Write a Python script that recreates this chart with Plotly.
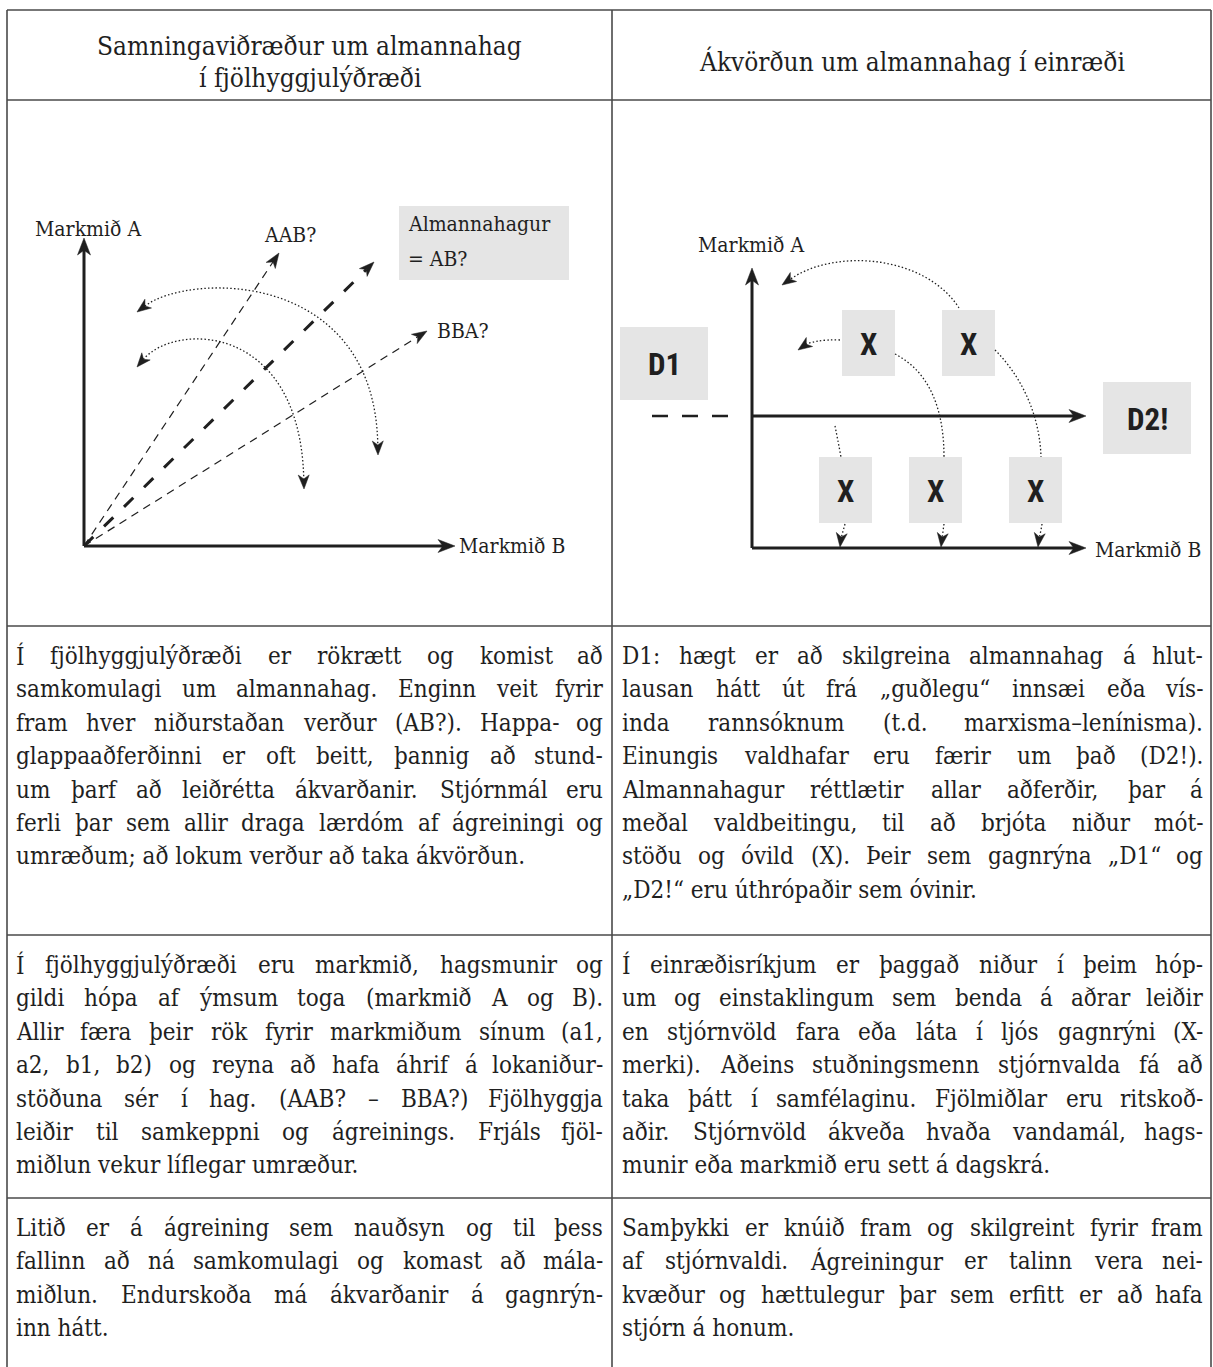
import glob
import math
import struct
import plotly.graph_objects as go

W, H = 1213, 1367

# ------------------------------------------------------------------ data
table_cols = [7, 612, 1211]
table_rows = [10, 100, 626, 935, 1198, 1367]

header_left = ["Samningaviðræður um almannahag", "í fjölhyggjulýðræði"]
header_right = ["Ákvörðun um almannahag í einræði"]

body_left = [
    ["Í fjölhyggjulýðræði er rökrætt og komist að",
     "samkomulagi um almannahag. Enginn veit fyrir",
     "fram hver niðurstaðan verður (AB?). Happa- og",
     "glappaaðferðinni er oft beitt, þannig að stund-",
     "um þarf að leiðrétta ákvarðanir. Stjórnmál eru",
     "ferli þar sem allir draga lærdóm af ágreiningi og",
     "umræðum; að lokum verður að taka ákvörðun."],
    ["Í fjölhyggjulýðræði eru markmið, hagsmunir og",
     "gildi hópa af ýmsum toga (markmið A og B).",
     "Allir færa þeir rök fyrir markmiðum sínum (a1,",
     "a2, b1, b2) og reyna að hafa áhrif á lokaniður-",
     "stöðuna sér í hag. (AAB? – BBA?) Fjölhyggja",
     "leiðir til samkeppni og ágreinings. Frjáls fjöl-",
     "miðlun vekur líflegar umræður."],
    ["Litið er á ágreining sem nauðsyn og til þess",
     "fallinn að ná samkomulagi og komast að mála-",
     "miðlun. Endurskoða má ákvarðanir á gagnrýn-",
     "inn hátt."],
]
body_right = [
    ["D1: hægt er að skilgreina almannahag á hlut-",
     "lausan hátt út frá „guðlegu“ innsæi eða vís-",
     "inda rannsóknum (t.d. marxisma–lenínisma).",
     "Einungis valdhafar eru færir um það (D2!).",
     "Almannahagur réttlætir allar aðferðir, þar á",
     "meðal valdbeitingu, til að brjóta niður mót-",
     "stöðu og óvild (X). Þeir sem gagnrýna „D1“ og",
     "„D2!“ eru úthrópaðir sem óvinir."],
    ["Í einræðisríkjum er þaggað niður í þeim hóp-",
     "um og einstaklingum sem benda á aðrar leiðir",
     "en stjórnvöld fara eða láta í ljós gagnrýni (X-",
     "merki). Aðeins stuðningsmenn stjórnvalda fá að",
     "taka þátt í samfélaginu. Fjölmiðlar eru ritskoð-",
     "aðir. Stjórnvöld ákveða hvaða vandamál, hags-",
     "munir eða markmið eru sett á dagskrá."],
    ["Samþykki er knúið fram og skilgreint fyrir fram",
     "af stjórnvaldi. Ágreiningur er talinn vera nei-",
     "kvæður og hættulegur þar sem erfitt er að hafa",
     "stjórn á honum."],
]

# left diagram (pluralist negotiation)
L_origin = (84, 546)
L_axis_tips = [(84, 238), (455, 546)]
L_axis_labels = [("Markmið A", 88, 229, "center"), ("Markmið B", 458, 546, "left")]
L_ray_names = ["AAB?", "AB?", "BBA?"]
L_ray_tips = [(279, 253), (374, 262), (427, 331)]
L_ray_bold = [False, True, False]
L_ray_labels = [("AAB?", 290, 235, "center"), ("BBA?", 436, 331, "left")]
L_box = (399, 206, 569, 280)
L_box_text = [("Almannahagur", 407, 224), ("= AB?", 407, 259)]
L_arcs = [
    [(137, 312), (190, 272), (375, 270), (378, 455)],
    [(137, 367), (175, 322), (300, 322), (304, 489)],
]

# right diagram (autocratic decision)
R_vaxis = (752, 548, 268)
R_haxes = [(416, 752, 1086), (548, 752, 1086)]
R_dash = (652, 730, 416)
R_axis_labels = [("Markmið A", 751, 245, "center"), ("Markmið B", 1094, 550, "left")]
R_D_boxes = [("D1", 620, 327, 708, 400), ("D2!", 1103, 382, 1191, 454)]
R_X_boxes = [(842, 310, 895, 376), (942, 310, 995, 376),
             (819, 457, 872, 523), (909, 457, 962, 523), (1009, 457, 1062, 523)]
R_arcs = [  # control points, arrowhead at end?
    ([(959, 308), (925, 255), (835, 248), (782, 285)], True),
    ([(840, 340), (822, 339), (808, 343), (798, 350)], True),
    ([(895, 354), (930, 372), (944, 410), (944, 457)], False),
    ([(995, 350), (1025, 380), (1040, 420), (1041, 457)], False),
    ([(835, 426), (837, 436), (839, 446), (841, 457)], False),
    ([(845, 524), (843, 531), (841, 539), (840, 547)], True),
    ([(944, 524), (943, 531), (942, 539), (941, 547)], True),
    ([(1042, 524), (1041, 531), (1039, 539), (1038, 547)], True),
]

# ------------------------------------------------------------------ style
INK = "#1f1f1f"
GRID = "#4a4a4a"
BOX = "#e5e5e5"
COND = "Liberation Sans Narrow, Roboto Condensed, Roboto, sans-serif"

first_line_offset = 30
line_step = 33.4
col_pad_left = [15, 621]
col_pad_right = [604, 1204]


# ------------------------------------------------------------------ font metrics (for justified text)
def _parse_ttf(path):
    data = open(path, "rb").read()
    num = struct.unpack(">H", data[4:6])[0]
    tables = {}
    for i in range(num):
        tag, _cs, off, ln = struct.unpack(">4sIII", data[12 + 16 * i:28 + 16 * i])
        tables[tag.decode("latin1")] = off
    head = tables["head"]
    upem = struct.unpack(">H", data[head + 18:head + 20])[0]
    hhea = tables["hhea"]
    nhm = struct.unpack(">H", data[hhea + 34:hhea + 36])[0]
    hm = tables["hmtx"]
    adv = [struct.unpack(">H", data[hm + 4 * i:hm + 4 * i + 2])[0] for i in range(nhm)]
    cm = tables["cmap"]
    nsub = struct.unpack(">H", data[cm + 2:cm + 4])[0]
    for i in range(nsub):
        pid, eid, off = struct.unpack(">HHI", data[cm + 4 + 8 * i:cm + 12 + 8 * i])
        st = cm + off
        fmt = struct.unpack(">H", data[st:st + 2])[0]
        if fmt != 4:
            continue
        segx2 = struct.unpack(">H", data[st + 6:st + 8])[0]
        seg = segx2 // 2
        ends = struct.unpack(">%dH" % seg, data[st + 14:st + 14 + segx2])
        starts = struct.unpack(">%dH" % seg, data[st + 16 + segx2:st + 16 + 2 * segx2])
        deltas = struct.unpack(">%dh" % seg, data[st + 16 + 2 * segx2:st + 16 + 3 * segx2])
        rpos = st + 16 + 3 * segx2
        roffs = struct.unpack(">%dH" % seg, data[rpos:rpos + segx2])

        def glyph(c, ends=ends, starts=starts, deltas=deltas, roffs=roffs, rpos=rpos):
            for k in range(seg):
                if ends[k] >= c:
                    if starts[k] > c:
                        return 0
                    if roffs[k] == 0:
                        return (c + deltas[k]) & 0xFFFF
                    a = rpos + 2 * k + roffs[k] + 2 * (c - starts[k])
                    g = struct.unpack(">H", data[a:a + 2])[0]
                    return (g + deltas[k]) & 0xFFFF if g else 0
            return 0
        return glyph, adv, upem
    raise ValueError("no cmap")


METRICS = None
SERIF = "DejaVu Serif"
for fname, fam in [("DejaVuSerifCondensed.ttf", "DejaVu Serif Condensed"),
                   ("DejaVuSerif.ttf", "DejaVu Serif")]:
    for p in glob.glob("/usr/share/fonts/**/" + fname, recursive=True):
        try:
            METRICS = _parse_ttf(p)
            SERIF = fam
            break
        except Exception:
            pass
    if METRICS is not None:
        break


def text_width(s, size):
    if METRICS is None:
        return len(s) * 0.56 * size
    glyph, adv, upem = METRICS
    tot = 0
    for ch in s:
        g = glyph(ord(ch))
        tot += adv[g] if g < len(adv) else adv[-1]
    return tot * size / upem


# choose body size so every justified line fits with reasonable word gaps
def fit_size():
    best = 24.0
    for col, rows in enumerate([body_left, body_right]):
        cw = col_pad_right[col] - col_pad_left[col]
        for lines in rows:
            for ln in lines[:-1]:
                words = ln.split(" ")
                w1 = sum(text_width(w, 1) for w in words)
                sp = text_width(" ", 1) * 0.35 * (len(words) - 1)
                best = min(best, cw / (w1 + sp))
    return best


BODY = fit_size()

# ------------------------------------------------------------------ figure
shapes = []
ann = []


def line(x0, y0, x1, y1, color=INK, width=3, dash=None):
    d = dict(type="line", xref="x", yref="y", x0=x0, y0=y0, x1=x1, y1=y1,
             line=dict(color=color, width=width))
    if dash:
        d["line"]["dash"] = dash
    shapes.append(d)


def rect(x0, y0, x1, y1, fill=BOX):
    shapes.append(dict(type="rect", xref="x", yref="y", x0=x0, y0=y0, x1=x1, y1=y1,
                       fillcolor=fill, line=dict(width=0), layer="below"))


def head(tip, direction, length=15, half=6):
    dx, dy = direction
    n = math.hypot(dx, dy)
    ux, uy = dx / n, dy / n
    bx, by = tip[0] - ux * length, tip[1] - uy * length
    nx, ny = tip[0] - ux * length * 0.72, tip[1] - uy * length * 0.72
    px, py = -uy, ux
    path = (f"M {tip[0]:.1f},{tip[1]:.1f} L {bx + px * half:.1f},{by + py * half:.1f} "
            f"L {nx:.1f},{ny:.1f} L {bx - px * half:.1f},{by - py * half:.1f} Z")
    shapes.append(dict(type="path", xref="x", yref="y", path=path,
                       fillcolor=INK, line=dict(color=INK, width=0.5)))
    return (tip[0] - ux * length * 0.7, tip[1] - uy * length * 0.7)


def text(s, x, y, size, anchor="left", family=None, weight="normal", color=INK):
    ann.append(dict(x=x, y=y, xref="x", yref="y", text=s, showarrow=False,
                    xanchor=anchor, yanchor="middle", borderpad=0,
                    font=dict(family=family or SERIF, size=size, color=color, weight=weight)))


def cubic(pts, dash="1.5px,2.2px", width=1.3, arrow_end=False, arrow_start=False):
    p0, p1, p2, p3 = pts
    if arrow_start:
        p0 = head(p0, (p0[0] - p1[0], p0[1] - p1[1]), length=14, half=5.5)
    if arrow_end:
        p3 = head(p3, (p3[0] - p2[0], p3[1] - p2[1]), length=14, half=5.5)
    path = (f"M {p0[0]:.1f},{p0[1]:.1f} C {p1[0]},{p1[1]} {p2[0]},{p2[1]} "
            f"{p3[0]:.1f},{p3[1]:.1f}")
    shapes.append(dict(type="path", xref="x", yref="y", path=path,
                       line=dict(color=INK, width=width, dash=dash)))


# table grid
for y in table_rows[:-1]:
    line(table_cols[0], y, table_cols[-1], y, color=GRID, width=1.6)
for x in table_cols:
    line(x, table_rows[0], x, table_rows[-1], color=GRID, width=1.6)

# headers
for i, s in enumerate(header_left):
    text(s, (table_cols[0] + table_cols[1]) / 2, 46 + i * 32, 26, anchor="center")
for s in header_right:
    text(s, (table_cols[1] + table_cols[2]) / 2, 61, 26, anchor="center")

# body text (justified word by word)
for col, rows in enumerate([body_left, body_right]):
    x0, x1 = col_pad_left[col], col_pad_right[col]
    for r, lines in enumerate(rows):
        top = table_rows[2 + r]
        for k, ln in enumerate(lines):
            y = top + first_line_offset + k * line_step
            words = ln.split(" ")
            if k == len(lines) - 1 or len(words) == 1:
                text(ln, x0, y, BODY)
                continue
            widths = [text_width(w, BODY) for w in words]
            gap = (x1 - x0 - sum(widths)) / (len(words) - 1)
            xp = x0
            for j, w in enumerate(words):
                if j == len(words) - 1:
                    text(w, x1, y, BODY, anchor="right")
                else:
                    text(w, xp, y, BODY)
                xp += widths[j] + gap

# ---------------- left diagram
rect(*L_box)
for s, x, y in L_box_text:
    text(s, x, y, 21)
for tip in L_axis_tips:
    end = head(tip, (tip[0] - L_origin[0], tip[1] - L_origin[1]), length=17, half=6.5)
    line(L_origin[0], L_origin[1], end[0], end[1], width=3)
for s, x, y, a in L_axis_labels:
    text(s, x, y, 21, anchor=a)
for tip, bold in zip(L_ray_tips, L_ray_bold):
    end = head(tip, (tip[0] - L_origin[0], tip[1] - L_origin[1]), length=15, half=5.5)
    if bold:
        line(L_origin[0], L_origin[1], end[0], end[1], width=3, dash="13px,15px")
    else:
        line(L_origin[0], L_origin[1], end[0], end[1], width=1.2, dash="8px,6px")
for s, x, y, a in L_ray_labels:
    text(s, x, y, 21, anchor=a)
for pts in L_arcs:
    cubic(pts, arrow_start=True, arrow_end=True)

# ---------------- right diagram
for name, a, b, c, d in R_D_boxes:
    rect(a, b, c, d)
    text(name, (a + c) / 2, (b + d) / 2 + 1, 31, anchor="center", family=COND, weight="bold")
for a, b, c, d in R_X_boxes:
    rect(a, b, c, d)
    text("X", (a + c) / 2, (b + d) / 2 + 1, 31, anchor="center", family=COND, weight="bold")
vx, vy0, vy1 = R_vaxis
end = head((vx, vy1), (0, -1), length=17, half=6.5)
line(vx, vy0, end[0], end[1], width=3)
for y, xa, xb in R_haxes:
    end = head((xb, y), (1, 0), length=17, half=6.5)
    line(xa, y, end[0], end[1], width=3)
line(R_dash[0], R_dash[2], R_dash[1], R_dash[2], width=2.6, dash="16px,14px")
for s, x, y, a in R_axis_labels:
    text(s, x, y, 21, anchor=a)
for pts, arr in R_arcs:
    cubic(pts, arrow_end=arr)

fig = go.Figure()
fig.update_layout(
    width=W, height=H, margin=dict(l=0, r=0, t=0, b=0),
    paper_bgcolor="white", plot_bgcolor="white",
    xaxis=dict(range=[0, W], visible=False, fixedrange=True),
    yaxis=dict(range=[H, 0], visible=False, fixedrange=True),
    shapes=shapes, annotations=ann, showlegend=False,
)
fig.write_html(
    "out.html",
    config={"displayModeBar": False},
    post_script="document.body.style.margin='0';document.body.style.overflow='hidden';",
)
